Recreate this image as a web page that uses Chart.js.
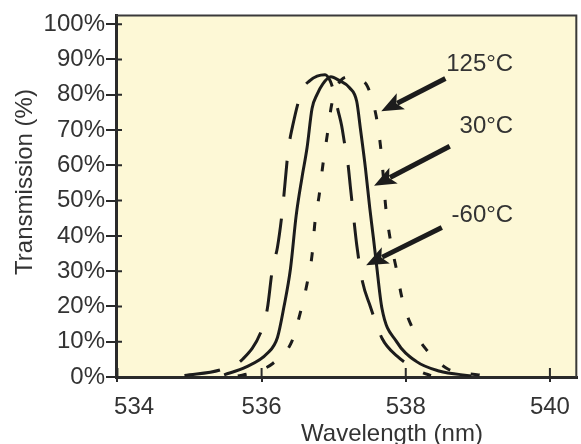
<!DOCTYPE html>
<html>
<head>
<meta charset="utf-8">
<script src="https://cdn.jsdelivr.net/npm/chart.js@4/dist/chart.umd.min.js"></script>
<style>
  html, body { margin: 0; padding: 0; background: #fff; overflow: hidden; }
  canvas { display: block; }
</style>
</head>
<body>
<canvas id="chart" width="581" height="444"></canvas>
<script>
// Transmission curves of a filter at three temperatures

const COLD_NM = [534.93, 535.44, 535.74, 536.01, 536.08, 536.15, 536.22, 536.29, 536.37, 536.43, 536.56, 536.67, 536.77, 536.88, 536.95, 537.00, 537.06, 537.11, 537.15, 537.20, 537.23, 537.27, 537.32, 537.40, 537.50, 537.67, 537.88, 538.22, 538.35];
const COLD_T  = [0.4, 2.1, 5.1, 13.8, 19.4, 30.6, 36.8, 47.5, 64.3, 71.1, 81.2, 84.0, 85.3, 85.7, 84.0, 80.9, 75.6, 71.3, 66.3, 60.1, 54.2, 46.6, 37.4, 27.0, 20.5, 11.0, 5.9, 1.4, 0.4];

const ROOM_NM = [535.48, 535.78, 536.08, 536.22, 536.31, 536.40, 536.48, 536.56, 536.63, 536.70, 536.77, 536.85, 536.96, 537.08, 537.22, 537.32, 537.37, 537.44, 537.50, 537.55, 537.59, 537.67, 537.87, 538.14, 538.46, 538.91];
const ROOM_T  = [0.6, 2.8, 6.7, 11.2, 19.9, 30.6, 45.8, 56.5, 64.9, 76.1, 80.1, 83.1, 85.1, 84.0, 82.0, 78.1, 70.5, 59.3, 48.0, 39.6, 32.6, 19.4, 10.1, 4.5, 1.7, 0.3];

const HOT_NM = [535.67, 535.85, 536.16, 536.42, 536.53, 536.63, 536.70, 536.74, 536.80, 536.85, 536.91, 536.97, 537.03, 537.11, 537.22, 537.35, 537.47, 537.59, 537.65, 537.69, 537.72, 537.78, 537.87, 537.95, 538.07, 538.28, 538.59, 539.01, 539.14];
const HOT_T  = [0.3, 1.1, 3.9, 10.1, 17.7, 26.4, 34.6, 43.8, 51.7, 60.1, 68.5, 77.0, 81.5, 84.3, 85.1, 84.3, 82.3, 73.9, 65.4, 56.5, 48.6, 39.6, 30.6, 22.2, 14.9, 7.9, 2.2, 0.6, 0.1];

const X_TICKS = [534, 536, 538, 540];
const Y_TICKS = [0, 10, 20, 30, 40, 50, 60, 70, 80, 90, 100];

// Callouts: label, label anchor (nm, %), arrow tail and tip (nm, %)
const LABELS      = ['125°C', '30°C', '-60°C'];
const LABEL_AT    = [[539.49, 88.5], [539.49, 71.1], [539.49, 45.8]];
const ARROW_TAIL  = [[538.55, 84.6], [538.61, 65.4], [538.50, 42.4]];
const ARROW_TIP   = [[537.66, 75.3], [537.56, 54.2], [537.45, 31.7]];

const X_TITLE = 'Wavelength (nm)';
const Y_TITLE = 'Transmission (%)';

const INK = '#1c1c1c';
const TEXT = '#333333';
const PAPER = '#fdf8d6';
const FONT = '"Liberation Sans", Arial, sans-serif';
const SIZE = 24;

function toPoints(xs, ys) {
  return xs.map((x, i) => ({ x, y: ys[i] }));
}

function curve(label, xs, ys, dash) {
  return {
    label,
    data: toPoints(xs, ys),
    borderColor: INK,
    borderWidth: 3,
    borderDash: dash,
    pointRadius: 0,
    fill: false,
    cubicInterpolationMode: 'monotone',
  };
}

const decorations = {
  id: 'decorations',
  beforeDraw(chart) {
    const { ctx, chartArea: a } = chart;
    ctx.save();
    ctx.fillStyle = PAPER;
    ctx.fillRect(a.left, a.top, a.right - a.left, a.bottom - a.top);
    ctx.restore();
  },
  afterDraw(chart) {
    const { ctx, chartArea: a, scales: { x, y } } = chart;
    ctx.save();

    // top / right frame
    ctx.strokeStyle = '#3a3a3a';
    ctx.lineWidth = 2;
    ctx.beginPath();
    ctx.moveTo(a.left, a.top);
    ctx.lineTo(a.right - 1, a.top);
    ctx.lineTo(a.right - 1, a.bottom);
    ctx.stroke();

    // inner halves of the tick marks
    ctx.strokeStyle = '#2a2a2a';
    ctx.lineWidth = 2;
    ctx.beginPath();
    y.ticks.forEach(t => {
      const py = y.getPixelForValue(t.value);
      ctx.moveTo(a.left, py);
      ctx.lineTo(a.left + 6, py);
    });
    x.ticks.forEach(t => {
      const px = x.getPixelForValue(t.value);
      ctx.moveTo(px, a.bottom);
      ctx.lineTo(px, a.bottom - 9);
    });
    ctx.stroke();

    // arrows
    ctx.fillStyle = INK;
    ctx.strokeStyle = INK;
    ctx.lineWidth = 5;
    ARROW_TAIL.forEach((tail, i) => {
      const x0 = x.getPixelForValue(tail[0]), y0 = y.getPixelForValue(tail[1]);
      const x1 = x.getPixelForValue(ARROW_TIP[i][0]), y1 = y.getPixelForValue(ARROW_TIP[i][1]);
      const ang = Math.atan2(y1 - y0, x1 - x0);
      const head = 22, half = 9;
      const bx = x1 - head * Math.cos(ang), by = y1 - head * Math.sin(ang);
      ctx.beginPath();
      ctx.moveTo(x0, y0);
      ctx.lineTo(bx + 4 * Math.cos(ang), by + 4 * Math.sin(ang));
      ctx.stroke();
      ctx.beginPath();
      ctx.moveTo(x1, y1);
      ctx.lineTo(bx + half * Math.sin(ang), by - half * Math.cos(ang));
      ctx.lineTo(bx + 5 * Math.cos(ang), by + 5 * Math.sin(ang));
      ctx.lineTo(bx - half * Math.sin(ang), by + half * Math.cos(ang));
      ctx.closePath();
      ctx.fill();
    });

    // callout labels
    ctx.fillStyle = TEXT;
    ctx.font = SIZE + 'px ' + FONT;
    ctx.textAlign = 'right';
    ctx.textBaseline = 'middle';
    LABELS.forEach((txt, i) => {
      ctx.fillText(txt, x.getPixelForValue(LABEL_AT[i][0]), y.getPixelForValue(LABEL_AT[i][1]));
    });

    // axis titles
    ctx.textAlign = 'center';
    ctx.textBaseline = 'alphabetic';
    ctx.fillText(X_TITLE, 392, 441);
    ctx.translate(32, 182);
    ctx.rotate(-Math.PI / 2);
    ctx.fillText(Y_TITLE, 0, 0);

    ctx.restore();
  }
};

new Chart(document.getElementById('chart'), {
  type: 'line',
  data: {
    datasets: [
      curve('-60°C', COLD_NM, COLD_T, [36, 22]),
      curve('30°C', ROOM_NM, ROOM_T, []),
      curve('125°C', HOT_NM, HOT_T, [9, 21]),
    ],
  },
  options: {
    responsive: false,
    animation: false,
    layout: { padding: { top: 11, right: 1, left: 0, bottom: 0 } },
    plugins: {
      legend: { display: false },
      tooltip: { enabled: false },
    },
    scales: {
      x: {
        type: 'linear',
        min: 533.98,
        max: 540.38,
        afterFit: s => { s.height = 67; },
        afterBuildTicks: s => { s.ticks = X_TICKS.map(value => ({ value })); },
        ticks: {
          color: TEXT,
          font: { family: FONT, size: SIZE },
          padding: 11,
          maxRotation: 0,
          autoSkip: false,
          callback: v => (v === 534 ? '     534' : String(v)),
        },
        grid: { drawOnChartArea: false, drawTicks: true, tickLength: 5, tickColor: '#2a2a2a', lineWidth: 2 },
        border: { display: true, color: '#2a2a2a', width: 3 },
      },
      y: {
        min: 0,
        max: 102.5,
        afterFit: s => { s.width = 116; },
        afterBuildTicks: s => { s.ticks = Y_TICKS.map(value => ({ value })); },
        ticks: {
          color: TEXT,
          font: { family: FONT, size: SIZE },
          padding: 1,
          autoSkip: false,
          callback: v => v + '%',
        },
        grid: { drawOnChartArea: false, drawTicks: true, tickLength: 10, tickColor: '#2a2a2a', lineWidth: 2 },
        border: { display: true, color: '#2a2a2a', width: 3 },
      },
    },
  },
  plugins: [decorations],
});
</script>
</body>
</html>
